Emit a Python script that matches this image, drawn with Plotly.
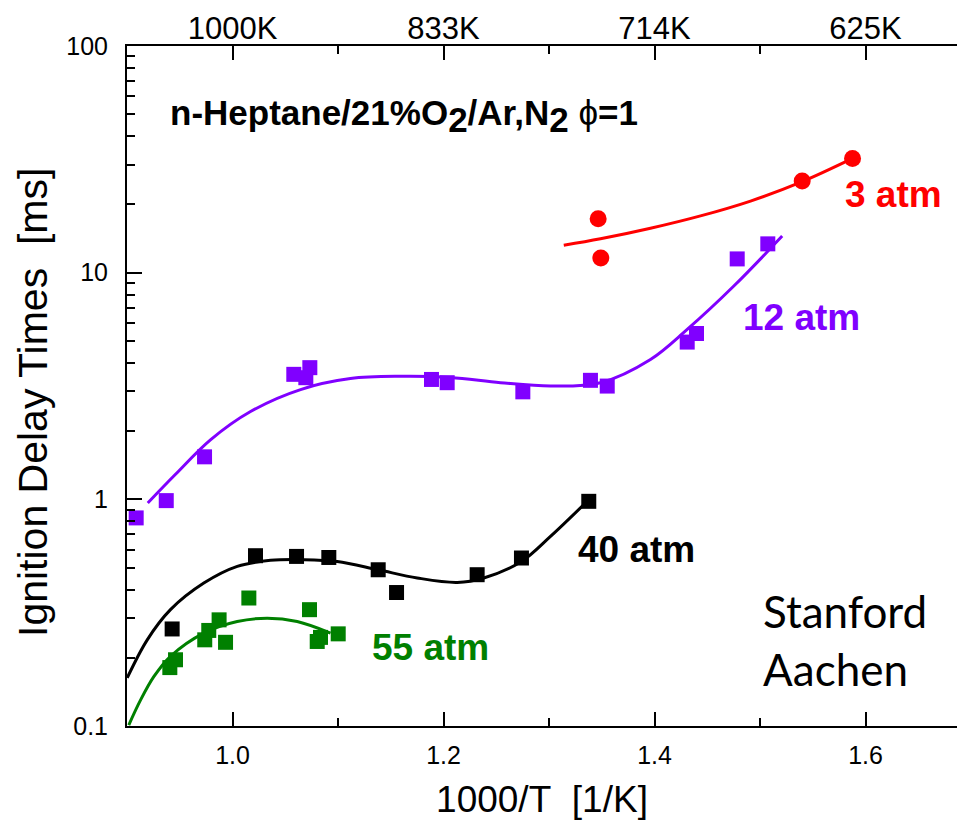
import plotly.graph_objects as go

# ---- measured ignition delay times (1000/T in 1/K, tau in ms) ----
p3_x = [1.3466, 1.3491, 1.5400, 1.5877]
p3_y = [17.3, 11.6, 25.4, 31.9]

p12_x = [0.9087, 0.9372, 0.9735, 1.0581, 1.0733, 1.0695, 1.1886, 1.2035,
         1.2752, 1.3393, 1.3552, 1.4310, 1.4398, 1.4784, 1.5074]
p12_y = [0.828, 0.987, 1.54, 3.56, 3.81, 3.44, 3.38, 3.27,
         2.98, 3.35, 3.16, 4.94, 5.39, 11.5, 13.4]

p40_x = [0.9428, 1.0218, 1.0607, 1.0913, 1.1381, 1.1555, 1.2319, 1.2739, 1.3377]
p40_y = [0.268, 0.564, 0.560, 0.554, 0.489, 0.388, 0.465, 0.551, 0.980]

p55_x = [0.9406, 0.9460, 0.9737, 0.9775, 0.9873, 0.9934, 1.0155, 1.0730,
         1.0803, 1.0834, 1.1002]
p55_y = [0.181, 0.196, 0.240, 0.264, 0.294, 0.234, 0.367, 0.326,
         0.236, 0.246, 0.255]

# ---- smooth fit curves through each pressure series ----
f3_x = [1.3140, 1.3488, 1.3962, 1.4436, 1.4910, 1.5400, 1.5877]
f3_y = [13.2, 14.1, 15.7, 17.8, 20.7, 25.2, 31.9]

f12_x = [0.9197, 0.9460, 0.9791, 1.0171, 1.0645, 1.1118, 1.1592, 1.2066,
         1.2540, 1.3014, 1.3488, 1.3962, 1.4310, 1.4752, 1.5210]
f12_y = [0.964, 1.29, 1.83, 2.44, 3.05, 3.41, 3.49, 3.45,
         3.27, 3.16, 3.27, 4.14, 5.62, 8.73, 14.5]

f40_x = [0.9002, 0.9192, 0.9412, 0.9728, 1.0045, 1.0360, 1.0676, 1.0992,
         1.1381, 1.1751, 1.2130, 1.2382, 1.2739, 1.3014, 1.3330]
f40_y = [0.163, 0.240, 0.326, 0.427, 0.506, 0.538, 0.542, 0.532,
         0.489, 0.450, 0.430, 0.450, 0.532, 0.686, 0.948]

f55_x = [0.9017, 0.9128, 0.9254, 0.9412, 0.9728, 1.0045, 1.0329, 1.0613, 1.0929]
f55_y = [0.101, 0.130, 0.165, 0.203, 0.257, 0.289, 0.299, 0.289, 0.257]

# ---- axis ticks ----
x_ticks = [1.0, 1.2, 1.4, 1.6]
x_ticktext = ["1.0", "1.2", "1.4", "1.6"]
x_minor = [1.1, 1.3, 1.5]
top_ticktext = ["1000K", "833K", "714K", "625K"]
y_ticks = [0.1, 1, 10, 100]
y_ticktext = ["0.1", "1", "10", "100"]

RED = "#ff0000"
PURPLE = "#8000ff"
BLACK = "#000000"
GREEN = "#008000"

series = [
    (f3_x, f3_y, p3_x, p3_y, RED, "circle", 17),
    (f12_x, f12_y, p12_x, p12_y, PURPLE, "square", 15),
    (f40_x, f40_y, p40_x, p40_y, BLACK, "square", 15),
    (f55_x, f55_y, p55_x, p55_y, GREEN, "square", 15),
]

fig = go.Figure()
for fx, fy, px, py, col, sym, sz in series:
    fig.add_trace(go.Scatter(x=fx, y=fy, mode="lines",
                             line=dict(color=col, width=3, shape="spline", smoothing=1.0),
                             showlegend=False, hoverinfo="skip"))
    fig.add_trace(go.Scatter(x=px, y=py, mode="markers",
                             marker=dict(color=col, symbol=sym, size=sz, line=dict(width=0)),
                             showlegend=False))

# carrier trace for the temperature (top) axis
fig.add_trace(go.Scatter(x=[x_ticks[0]], y=[1], xaxis="x2", mode="markers",
                         marker=dict(opacity=0), showlegend=False, hoverinfo="skip"))

X_RANGE = [0.9, 0.9 + 830 / 1055]
FONT = "Liberation Sans, Arial, sans-serif"
L, T, W, H = 127, 46, 830, 680   # plot area in px


def px_to_paper(xp, yp):
    return (xp - L) / W, 1 - (yp - T) / H


fig.update_layout(
    width=957, height=825,
    margin=dict(l=L, r=957 - L - W, t=T, b=825 - T - H),
    paper_bgcolor="white", plot_bgcolor="white",
    font=dict(family=FONT, color="black"),
    showlegend=False,
    xaxis=dict(
        range=X_RANGE, showgrid=False, zeroline=False,
        showline=True, linecolor="black", linewidth=2,
        ticks="inside", ticklen=14, tickwidth=2, tickcolor="black",
        tickvals=x_ticks, ticktext=x_ticktext,
        tickfont=dict(size=25, family=FONT), ticklabelstandoff=6,
        minor=dict(ticks="inside", ticklen=8, tickwidth=2, tickcolor="black",
                   tickvals=x_minor, showgrid=False),
        title=dict(text="1000/T\u00a0\u00a0[1/K]", font=dict(size=37, family=FONT), standoff=18),
    ),
    xaxis2=dict(
        range=X_RANGE, overlaying="x", side="top", anchor="y",
        showgrid=False, zeroline=False,
        showline=True, linecolor="black", linewidth=2,
        ticks="inside", ticklen=14, tickwidth=2, tickcolor="black",
        tickvals=x_ticks, ticktext=top_ticktext,
        tickfont=dict(size=31, family=FONT), ticklabelstandoff=-7,
        minor=dict(ticks="inside", ticklen=8, tickwidth=2, tickcolor="black",
                   tickvals=x_minor, showgrid=False),
    ),
    yaxis=dict(
        type="log", range=[-1, 2], showgrid=False, zeroline=False,
        showline=True, linecolor="black", linewidth=2,
        ticks="inside", ticklen=15, tickwidth=2, tickcolor="black",
        tickvals=y_ticks, ticktext=y_ticktext,
        tickfont=dict(size=25, family=FONT), ticklabelstandoff=12,
        minor=dict(ticks="inside", ticklen=8, tickwidth=2, tickcolor="black",
                   dtick="D1", showgrid=False),
    ),
)

# y-axis title
ax, ay = px_to_paper(33, 403)
fig.add_annotation(text="Ignition Delay Times\u00a0\u00a0[ms]", textangle=-90,
                   xref="paper", yref="paper", x=ax, y=ay,
                   xanchor="center", yanchor="middle", showarrow=False,
                   font=dict(size=41, family=FONT, color="black"))

sub2 = "<sub><span style='font-size:35px'>2</span></sub>"
tx, ty = px_to_paper(168, 116)
fig.add_annotation(
    text="n-Heptane/21%O" + sub2 + "/Ar,N" + sub2
         + " <span style='font-weight:normal'>\u03d5</span>=1",
    xref="paper", yref="paper", x=tx, y=ty,
    xanchor="left", yanchor="middle", showarrow=False,
    font=dict(size=35, family=FONT, color="black", weight="bold"),
)

labels = [
    ("3 atm", 1.6265, 1.3458, RED),
    ("12 atm", 1.5393, 0.8026, PURPLE),
    ("40 atm", 1.3829, -0.2222, BLACK),
    ("55 atm", 1.1877, -0.655, GREEN),
]
for txt, lx, ly, col in labels:
    fig.add_annotation(text="<b>" + txt + "</b>", x=lx, y=ly, xref="x", yref="y",
                       showarrow=False, xanchor="center", yanchor="middle",
                       font=dict(size=37, family=FONT, color=col))

for txt, yb in [("Stanford", 627), ("Aachen", 685)]:
    sx, sy = px_to_paper(761, yb - 16)
    fig.add_annotation(text=txt, xref="paper", yref="paper", x=sx, y=sy,
                       xanchor="left", yanchor="middle", showarrow=False,
                       font=dict(size=44, family="Lato, Carlito, sans-serif", color="black"))

fig.write_html("out.html")
